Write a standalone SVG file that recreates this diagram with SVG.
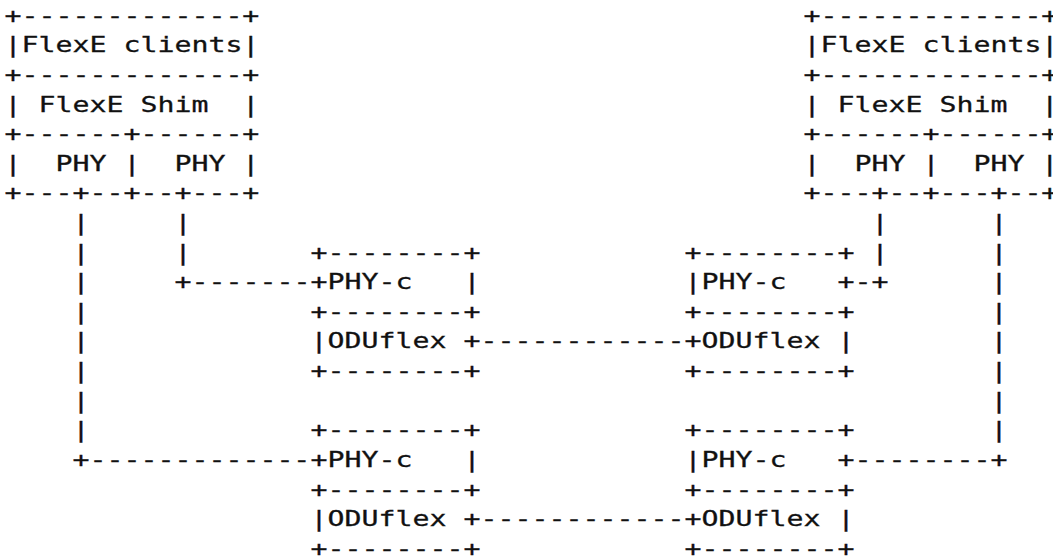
<svg xmlns="http://www.w3.org/2000/svg" width="1053" height="560" viewBox="0 0 1053 560" xml:space="preserve">
  <style>
    text { font-family: "DejaVu Sans Mono", "Liberation Mono", monospace; font-size: 22px; fill: #111; stroke: #111; stroke-width: 0.3px; white-space: pre; }
  </style>
  <rect width="1053" height="560" fill="#ffffff"/>

  <!-- character grid: 13.245 units per column, widened to 17 px; rows 29.61 px apart -->
  <g transform="translate(4.5 -1) scale(1.2835 1)">

    <!-- FlexE stack, left side (column 0) -->
    <g id="flexe-left">
      <text x="0" y="23.8">+-------------+</text>
      <text x="0" y="53.4">|FlexE clients|</text>
      <text x="0" y="83.0">+-------------+</text>
      <text x="0" y="112.6">| FlexE Shim  |</text>
      <text x="0" y="142.2">+------+------+</text>
      <text x="0" y="171.9">|  PHY |  PHY |</text>
      <text x="0" y="201.5">+---+--+--+---+</text>
    </g>

    <!-- FlexE stack, right side (column 47) -->
    <g id="flexe-right">
      <text x="622.52" y="23.8">+-------------+</text>
      <text x="622.52" y="53.4">|FlexE clients|</text>
      <text x="622.52" y="83.0">+-------------+</text>
      <text x="622.52" y="112.6">| FlexE Shim  |</text>
      <text x="622.52" y="142.2">+------+------+</text>
      <text x="622.52" y="171.9">|  PHY |  PHY |</text>
      <text x="622.52" y="201.5">+---+--+---+--+</text>
    </g>

    <!-- PHY-c / ODUflex, upper left (column 18) -->
    <g id="oduflex-upper-left">
      <text x="238.41" y="260.7">+--------+</text>
      <text x="238.41" y="290.3">+PHY-c   |</text>
      <text x="238.41" y="319.9">+--------+</text>
      <text x="238.41" y="349.5">|ODUflex +</text>
      <text x="238.41" y="379.1">+--------+</text>
    </g>

    <!-- PHY-c / ODUflex, upper right (column 40) -->
    <g id="oduflex-upper-right">
      <text x="529.8" y="260.7">+--------+</text>
      <text x="529.8" y="290.3">|PHY-c   +</text>
      <text x="529.8" y="319.9">+--------+</text>
      <text x="529.8" y="349.5">+ODUflex |</text>
      <text x="529.8" y="379.1">+--------+</text>
    </g>

    <!-- PHY-c / ODUflex, lower left (column 18) -->
    <g id="oduflex-lower-left">
      <text x="238.41" y="438.3">+--------+</text>
      <text x="238.41" y="468.0">+PHY-c   |</text>
      <text x="238.41" y="497.6">+--------+</text>
      <text x="238.41" y="527.2">|ODUflex +</text>
      <text x="238.41" y="556.8">+--------+</text>
    </g>

    <!-- PHY-c / ODUflex, lower right (column 40) -->
    <g id="oduflex-lower-right">
      <text x="529.8" y="438.3">+--------+</text>
      <text x="529.8" y="468.0">|PHY-c   +</text>
      <text x="529.8" y="497.6">+--------+</text>
      <text x="529.8" y="527.2">+ODUflex |</text>
      <text x="529.8" y="556.8">+--------+</text>
    </g>

    <!-- links -->
    <g id="connectors">
      <!-- left PHY (column 10) to upper PHY-c -->
      <text x="132.45" y="231.1">|</text>
      <text x="132.45" y="260.7">|</text>
      <text x="132.45" y="290.3">+-------</text>
      <!-- left PHY (column 4) to lower PHY-c -->
      <text x="52.98" y="231.1">|</text>
      <text x="52.98" y="260.7">|</text>
      <text x="52.98" y="290.3">|</text>
      <text x="52.98" y="319.9">|</text>
      <text x="52.98" y="349.5">|</text>
      <text x="52.98" y="379.1">|</text>
      <text x="52.98" y="408.7">|</text>
      <text x="52.98" y="438.3">|</text>
      <text x="52.98" y="468.0">+-------------</text>
      <!-- ODUflex to ODUflex (columns 28-39) -->
      <text x="370.86" y="349.5">------------</text>
      <text x="370.86" y="527.2">------------</text>
      <!-- right PHY (column 51) to upper PHY-c -->
      <text x="675.5" y="231.1">|</text>
      <text x="675.5" y="260.7">|</text>
      <text x="662.25" y="290.3">-+</text>
      <!-- right PHY (column 58) to lower PHY-c -->
      <text x="768.21" y="231.1">|</text>
      <text x="768.21" y="260.7">|</text>
      <text x="768.21" y="290.3">|</text>
      <text x="768.21" y="319.9">|</text>
      <text x="768.21" y="349.5">|</text>
      <text x="768.21" y="379.1">|</text>
      <text x="768.21" y="408.7">|</text>
      <text x="768.21" y="438.3">|</text>
      <text x="662.25" y="468.0">--------+</text>
    </g>
  </g>
</svg>
